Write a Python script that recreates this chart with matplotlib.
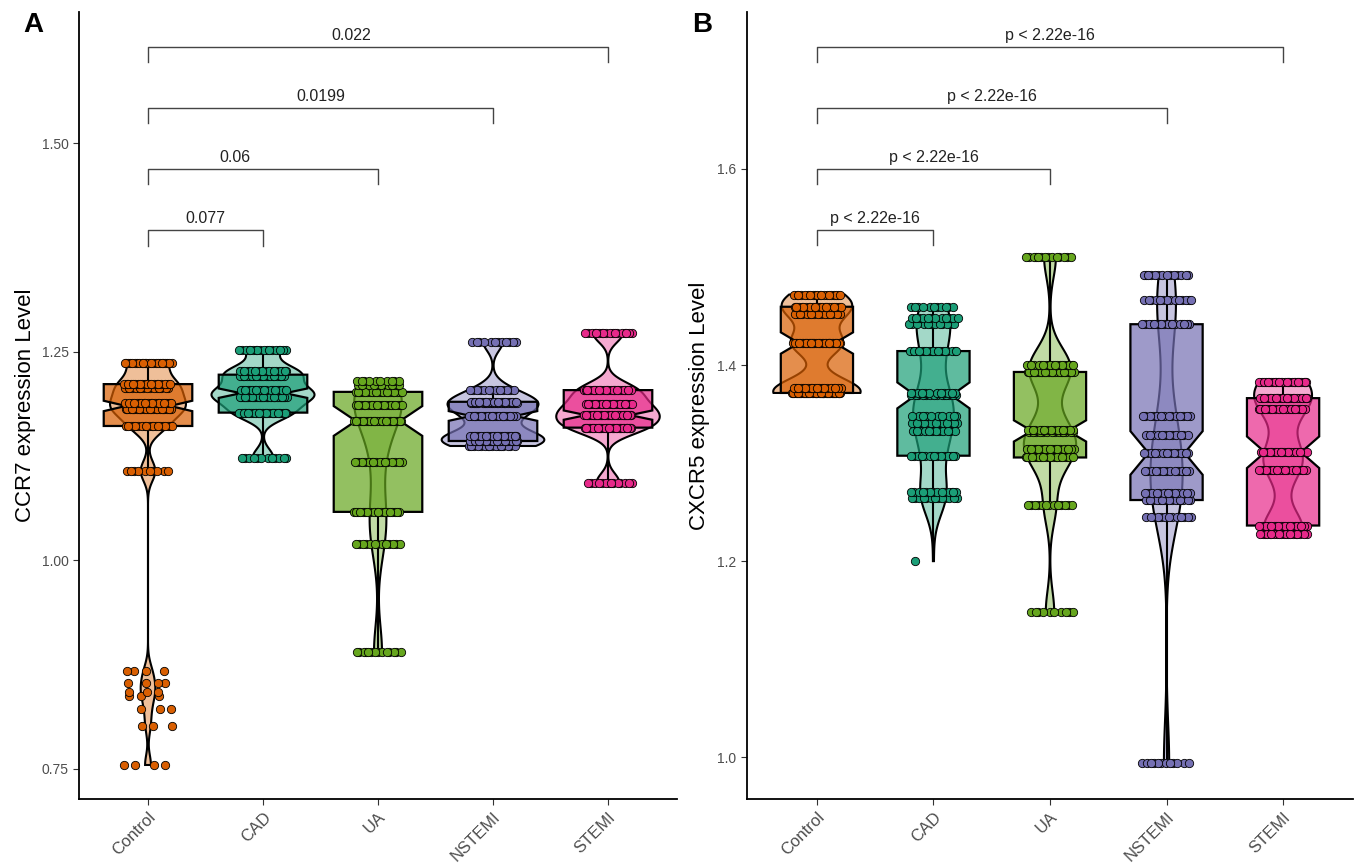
import matplotlib
import matplotlib.pyplot as plt
import numpy as np
from matplotlib.colors import to_rgba

matplotlib.use("Agg")

plt.rcParams["font.family"] = ["Liberation Sans", "DejaVu Sans"]

groups = ["Control", "CAD", "UA", "NSTEMI", "STEMI"]
colors = ["#D95F02", "#1B9E77", "#66A61E", "#7570B3", "#E7298A"]

# CCR7: distinct expression values in each group and how many samples sit at each
ccr7_levels = {
    "Control": [0.7545, 0.8017, 0.8217, 0.8373, 0.8425, 0.8525, 0.8666,
                1.107, 1.161, 1.181, 1.189, 1.2064, 1.2112, 1.2365],
    "CAD": [1.123, 1.177, 1.1963, 1.2043, 1.2212, 1.2264, 1.2524],
    "UA": [0.890, 1.019, 1.058, 1.118, 1.167, 1.186, 1.2019, 1.210, 1.2151],
    "NSTEMI": [1.137, 1.143, 1.149, 1.173, 1.188, 1.190, 1.204, 1.262],
    "STEMI": [1.093, 1.159, 1.174, 1.187, 1.204, 1.272],
}
ccr7_counts = {
    "Control": [4, 3, 3, 3, 3, 4, 4, 10, 20, 26, 20, 16, 20, 24],
    "CAD": [12, 30, 38, 20, 20, 22, 18],
    "UA": [14, 14, 20, 16, 30, 22, 24, 10, 10],
    "NSTEMI": [16, 26, 26, 24, 20, 22, 14, 12],
    "STEMI": [14, 36, 36, 26, 30, 18],
}

# CXCR5
cxcr5_levels = {
    "Control": [1.3715, 1.3762, 1.4224, 1.4523, 1.4594, 1.4719],
    "CAD": [1.200, 1.2648, 1.270, 1.3075, 1.3324, 1.3413, 1.348, 1.369,
            1.3715, 1.4142, 1.4416, 1.448, 1.4594],
    "UA": [1.148, 1.2569, 1.3057, 1.3146, 1.3313, 1.3342, 1.3929, 1.400, 1.5103],
    "NSTEMI": [0.9943, 1.2445, 1.2623, 1.2694, 1.2915, 1.3103, 1.3288, 1.3484,
               1.4416, 1.4658, 1.4915],
    "STEMI": [1.2281, 1.2363, 1.2925, 1.311, 1.3555, 1.3662, 1.3829],
}
cxcr5_counts = {
    "Control": [44, 20, 36, 16, 24, 20],
    "CAD": [1, 14, 14, 16, 12, 12, 10, 14, 12, 20, 12, 12, 11],
    "UA": [10, 14, 22, 20, 14, 16, 30, 20, 14],
    "NSTEMI": [12, 14, 16, 14, 14, 16, 12, 14, 18, 16, 14],
    "STEMI": [20, 22, 20, 26, 20, 24, 28],
}

# comparisons against Control and their p-values
comparisons = ["CAD", "UA", "NSTEMI", "STEMI"]
ccr7_pvals = ["0.077", "0.06", "0.0199", "0.022"]
cxcr5_pvals = ["p < 2.22e-16"] * 4


def expand(levels, counts):
    return np.repeat(np.array(levels, dtype=float), counts)


def violin_shape(vals, n=512):
    # gaussian kde with R's nrd0 bandwidth, trimmed to the data range
    sd = vals.std(ddof=1)
    q1, q3 = np.percentile(vals, [25, 75])
    lo = min(sd, (q3 - q1) / 1.34)
    if lo <= 0:
        lo = sd
    bw = 0.9 * lo * len(vals) ** -0.2
    ys = np.linspace(vals.min(), vals.max(), n)
    z = (ys[:, None] - vals[None, :]) / bw
    dens = np.exp(-0.5 * z ** 2).sum(axis=1) / (len(vals) * bw * np.sqrt(2 * np.pi))
    return ys, dens


def draw_panel(ax, levels, counts, pvals, ylim, yticks, yfmt, ylabel,
               box_w, vio_w, br_base, br_step, tip, label_shift):
    data = [expand(levels[g], counts[g]) for g in groups]
    shapes = [violin_shape(d) for d in data]
    dmax = max(s[1].max() for s in shapes)

    # violins
    for i, (ys, dens) in enumerate(shapes):
        pos = i + 1
        half = dens / dmax * vio_w / 2
        ax.fill(np.r_[pos - half, (pos + half)[::-1]], np.r_[ys, ys[::-1]],
                facecolor=to_rgba(colors[i], 0.4), edgecolor="black",
                linewidth=1.5, zorder=2)

    # notched boxes
    bp = ax.boxplot(data, positions=range(1, 6), widths=box_w, notch=True,
                    patch_artist=True, showfliers=False, showcaps=False,
                    whis=1.5, zorder=3,
                    boxprops=dict(linewidth=1.6, edgecolor="black"),
                    whiskerprops=dict(linewidth=1.5, color="black"),
                    medianprops=dict(linewidth=2.4, color="black"))
    for patch, c in zip(bp["boxes"], colors):
        patch.set_facecolor(to_rgba(c, 0.7))

    # jittered points (deterministic spread inside each row)
    for i, g in enumerate(groups):
        for k, (lv, cnt) in enumerate(zip(levels[g], counts[g])):
            off = ((np.arange(cnt) * 0.618034 + 0.37 * k + 0.13 * i) % 1 - 0.5) * 0.42
            ax.scatter(i + 1 + off, np.full(cnt, lv), s=36, color=colors[i],
                       edgecolors="black", linewidths=0.6, zorder=4)

    # significance brackets
    for j, (g, p) in enumerate(zip(comparisons, pvals)):
        x2 = groups.index(g) + 1
        yb = br_base + j * br_step
        ax.plot([1, 1, x2, x2], [yb - tip, yb, yb, yb - tip], color="#444444",
                linewidth=1.0, zorder=5)
        ax.annotate(p, ((1 + x2) / 2, yb), xytext=(label_shift[j], 3),
                    textcoords="offset points", ha="center", va="bottom",
                    fontsize=11.5, color="#222222")

    ax.set_xlim(0.4, 5.6)
    ax.set_ylim(*ylim)
    ax.set_yticks(yticks)
    ax.set_yticklabels([yfmt.format(t) for t in yticks])
    ax.set_xticks(range(1, 6))
    ax.set_xticklabels(groups, rotation=45, ha="right", va="top",
                       rotation_mode="anchor")
    ax.tick_params(axis="x", labelsize=12, labelcolor="#4D4D4D", color="#333333",
                   length=4, width=0.8)
    ax.tick_params(axis="y", labelsize=10, labelcolor="#4D4D4D", color="#333333",
                   length=4, width=0.8)
    for s in ["top", "right"]:
        ax.spines[s].set_visible(False)
    for s in ["left", "bottom"]:
        ax.spines[s].set_linewidth(1.3)
    ax.set_ylabel(ylabel, fontsize=16, color="black")


fig = plt.figure(figsize=(13.56, 8.63), dpi=100)
ax1 = fig.add_axes([79 / 1356, 64 / 863, 598 / 1356, 787 / 863])
ax2 = fig.add_axes([747 / 1356, 64 / 863, 606 / 1356, 787 / 863])

draw_panel(ax1, ccr7_levels, ccr7_counts, ccr7_pvals, (0.7137, 1.6574),
           [0.75, 1.00, 1.25, 1.50], "{:.2f}", "CCR7 expression Level",
           box_w=0.77, vio_w=0.9, br_base=1.3954, br_step=0.0733, tip=0.018,
           label_shift=[0, -20, 0, -19])
draw_panel(ax2, cxcr5_levels, cxcr5_counts, cxcr5_pvals, (0.9574, 1.760),
           [1.0, 1.2, 1.4, 1.6], "{:.1f}", "CXCR5 expression Level",
           box_w=0.62, vio_w=0.75, br_base=1.5378, br_step=0.062, tip=0.0153,
           label_shift=[0, 0, 0, 0])

ax1.yaxis.set_label_coords(-0.072, 0.5)
ax2.yaxis.set_label_coords(-0.061, 0.5)

fig.text(33 / 1356, 1 - 25 / 863, "A", fontsize=20, fontweight="bold",
         ha="center", va="center")
fig.text(702 / 1356, 1 - 25 / 863, "B", fontsize=20, fontweight="bold",
         ha="center", va="center")

fig.savefig("out.png", dpi=100)
